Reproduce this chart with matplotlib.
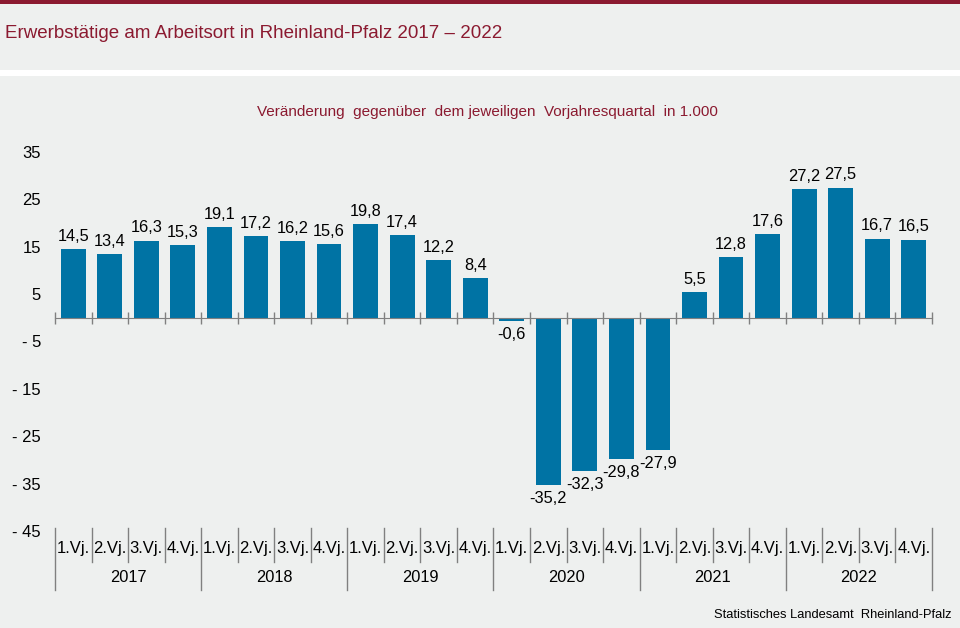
import matplotlib.pyplot as plt
from matplotlib.patches import Rectangle
import matplotlib.transforms as mtransforms
import numpy as np

plt.rcParams['font.family'] = ['Liberation Sans', 'DejaVu Sans']

years = ['2017', '2018', '2019', '2020', '2021', '2022']
quarters = ['1.Vj.', '2.Vj.', '3.Vj.', '4.Vj.']
values = [14.5, 13.4, 16.3, 15.3,
          19.1, 17.2, 16.2, 15.6,
          19.8, 17.4, 12.2, 8.4,
          -0.6, -35.2, -32.3, -29.8,
          -27.9, 5.5, 12.8, 17.6,
          27.2, 27.5, 16.7, 16.5]
y_ticks = [35, 25, 15, 5, -5, -15, -25, -35, -45]

bg = '#eef0ef'
bar_color = '#0073a4'
dark_red = '#8b1a30'

W, H = 960, 628
fig = plt.figure(figsize=(W / 100, H / 100), dpi=100, facecolor=bg)

# top band, white stripe
fig.patches.append(Rectangle((0, 1 - 4 / H), 1, 4 / H, transform=fig.transFigure,
                             facecolor=dark_red, edgecolor='none'))
fig.patches.append(Rectangle((0, 1 - 76 / H), 1, 6 / H, transform=fig.transFigure,
                             facecolor='white', edgecolor='none'))

fig.text(5 / W, 1 - 33 / H, 'Erwerbstätige am Arbeitsort in Rheinland-Pfalz 2017 – 2022',
         color=dark_red, fontsize=13.5, va='center', ha='left')
fig.text(487 / W, 1 - 112 / H,
         'Veränderung  gegenüber  dem jeweiligen  Vorjahresquartal  in 1.000',
         color=dark_red, fontsize=11, va='center', ha='center')
fig.text(952 / W, 1 - 615 / H, 'Statistisches Landesamt  Rheinland-Pfalz',
         color='black', fontsize=9.3, va='center', ha='right')

left, right = 55 / W, 932 / W
top, bottom = 1 - 152 / H, 1 - 531 / H
ax = fig.add_axes([left, bottom, right - left, top - bottom])
ax.set_facecolor(bg)

n = len(values)
x = np.arange(n)
ax.bar(x, values, width=0.68, color=bar_color, zorder=2)
ax.set_xlim(-0.5, n - 0.5)
ax.set_ylim(-45, 35)

for s in ['top', 'right', 'left']:
    ax.spines[s].set_visible(False)
ax.spines['bottom'].set_position(('data', 0))
ax.spines['bottom'].set_color('#808080')
ax.spines['bottom'].set_zorder(3)

ax.set_xticks(np.arange(-0.5, n, 1.0))
ax.set_xticklabels([])
ax.tick_params(axis='x', direction='inout', length=9, color='#808080', width=1)

ax.set_yticks(y_ticks)
ax.set_yticklabels([str(v) if v > 0 else '- ' + str(abs(v)) for v in y_ticks], fontsize=12)
ax.tick_params(axis='y', length=0, pad=10)

# value labels
for xi, v in zip(x, values):
    lab = f'{v:.1f}'.replace('.', ',')
    if v >= 0:
        ax.text(xi, v + 1.1, lab, ha='center', va='bottom', fontsize=11.8)
    else:
        ax.text(xi, v - 1.3, lab, ha='center', va='top', fontsize=11.8)

# category axis below
trans = mtransforms.blended_transform_factory(ax.transData, ax.transAxes)
for i in range(n + 1):
    xb = i - 0.5
    y_end = -0.156 if i % 4 == 0 else -0.082
    ax.plot([xb, xb], [0.008, y_end], color='#808080', lw=1, transform=trans, clip_on=False)
for i in range(n):
    ax.text(i, -0.045, quarters[i % 4], ha='center', va='center', fontsize=12,
            transform=trans)
for j, yr in enumerate(years):
    ax.text(j * 4 + 1.5, -0.124, yr, ha='center', va='center', fontsize=11.8,
            transform=trans)

fig.savefig('out.png', dpi=100, facecolor=bg)
